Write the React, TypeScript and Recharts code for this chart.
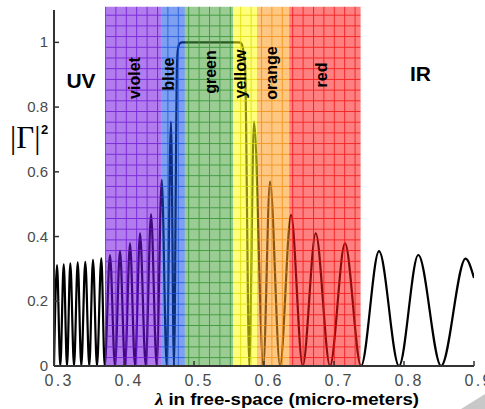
import React from 'react';
import { LineChart, Line, XAxis, YAxis, ReferenceArea } from 'recharts';

// |Gamma|^2 extrema, split by spectral region
const uvLambda = [0.3, 0.3043, 0.309, 0.3139, 0.3186, 0.3233, 0.3286, 0.3339, 0.339, 0.3447, 0.3504, 0.3557, 0.3614, 0.3676, 0.3724];
const uvGamma = [0.0, 0.312, 0.0, 0.314, 0.0, 0.317, 0.0, 0.32, 0.0, 0.322, 0.0, 0.328, 0.0, 0.333, 0.0];

const violetLambda = [0.38, 0.3871, 0.3943, 0.4014, 0.4086, 0.4157, 0.4229, 0.431, 0.4386, 0.4467];
const violetGamma = [0.343, 0.0, 0.356, 0.0, 0.379, 0.0, 0.41, 0.0, 0.469, 0.0];

const stopLambda = [0.4539, 0.461, 0.4671, 0.4714, 0.4757, 0.4771, 0.4795, 0.483, 0.564, 0.5675, 0.57, 0.5729, 0.579];
const stopGamma = [0.575, 0.0, 0.755, 0.0, 0.93, 0.98, 0.997, 1.0, 1.0, 0.997, 0.98, 0.93, 0.0];

const redIrLambda = [0.5857, 0.599, 0.6086, 0.6229, 0.6386, 0.6553, 0.6739, 0.6943, 0.7157, 0.7386, 0.7643, 0.7929, 0.8204, 0.853, 0.888, 0.9];
const redIrGamma = [0.755, 0.0, 0.57, 0.0, 0.467, 0.0, 0.41, 0.0, 0.379, 0.0, 0.355, 0.0, 0.343, 0.0, 0.332, 0.272];

const bandNames = ['violet', 'blue', 'green', 'yellow', 'orange', 'red'];
const bandStart = [0.373, 0.453, 0.487, 0.556, 0.59, 0.636];
const bandEnd = [0.453, 0.487, 0.556, 0.59, 0.636, 0.738];

const xTicks = [0.3, 0.4, 0.5, 0.6, 0.7, 0.8, 0.9];
const yTicks = [0, 0.2, 0.4, 0.6, 0.8, 1];

const lambdaAll = [...uvLambda, ...violetLambda, ...stopLambda, ...redIrLambda];
const gammaAll = [...uvGamma, ...violetGamma, ...stopGamma, ...redIrGamma];
const data = lambdaAll.map((lam, i) => ({ lam, r: gammaAll[i] }));

// fill (base colour, shown at 0.55 opacity) and grid-line colour per band
const BAND_STYLE: Record<string, { fill: string; grid: string }> = {
  violet: { fill: '#720ee0', grid: '#6a16d0' },
  blue: { fill: '#1452e4', grid: '#1c50e0' },
  green: { fill: '#46a23c', grid: '#2e902e' },
  yellow: { fill: '#ffff10', grid: '#d8d800' },
  orange: { fill: '#ff9b1c', grid: '#f08c10' },
  red: { fill: '#ff1818', grid: '#f01010' },
};

// label centres in px for the rotated band names
const LABEL_POS: Record<string, [number, number]> = {
  violet: [134.5, 78],
  blue: [168, 74],
  green: [210, 72],
  yellow: [240, 74],
  orange: [271.7, 73],
  red: [321.7, 75],
};

const FONT = 'Liberation Sans, Arial, Helvetica, sans-serif';

const XTick = (props: any) => {
  const { x, y, payload } = props;
  return (
    <text x={x + 4} y={y + 20} textAnchor="middle" fontSize={16} fill="#4a4a4a" fontFamily={FONT}
      textLength={27} lengthAdjust="spacing">
      {Number(payload.value).toFixed(1)}
    </text>
  );
};

const YTick = (props: any) => {
  const { x, y, payload } = props;
  const v = Number(payload.value);
  return (
    <text x={x - 6} y={y + 5} textAnchor="end" fontSize={15} fill="#4a4a4a" fontFamily={FONT}>
      {v === 0 || v === 1 ? String(v) : v.toFixed(1)}
    </text>
  );
};

const bandLabel = (name: string) => () => {
  const [cx, cy] = LABEL_POS[name];
  return (
    <text x={cx} y={cy} textAnchor="middle" dominantBaseline="central"
      transform={`rotate(-90 ${cx} ${cy})`} fontSize={16} fontWeight="bold" fontFamily={FONT} fill="#000">
      {name}
    </text>
  );
};

export default function App() {
  return (
    <div style={{ position: 'absolute', left: 0, top: 0, width: 485, height: 409, background: '#fff' }}>
      <LineChart width={485} height={409} data={data} margin={{ top: 10, right: 11, bottom: 0, left: 0 }}>
        <defs>
          {bandNames.map((b) => (
            <pattern key={b} id={`grid-${b}`} patternUnits="userSpaceOnUse" x={105} y={4} width={10.4} height={10.7}>
              <rect x={0} y={0} width={10.4} height={10.7} fill={BAND_STYLE[b].fill} fillOpacity={0.55} />
              <path d="M0.5 0 V10.7 M0 0.5 H10.4" stroke={BAND_STYLE[b].grid} strokeOpacity={0.8} strokeWidth={1} fill="none" />
            </pattern>
          ))}
        </defs>
        <XAxis dataKey="lam" type="number" domain={[0.3, 0.9]} ticks={xTicks} height={43}
          axisLine={{ stroke: '#333', strokeWidth: 2 }} tickLine={{ stroke: '#333', strokeWidth: 1.5 }}
          tickSize={-5} tickMargin={5} tick={<XTick />} allowDataOverflow />
        <XAxis xAxisId="top" orientation="top" dataKey="lam" type="number" domain={[0.3, 0.9]} ticks={xTicks}
          height={0} axisLine={{ stroke: '#444', strokeWidth: 2 }} tickLine={{ stroke: '#444', strokeWidth: 1.5 }}
          tickSize={-5} tick={false} />
        <YAxis type="number" domain={[0, 1.1]} ticks={yTicks} width={54}
          axisLine={{ stroke: '#333', strokeWidth: 2 }} tickLine={{ stroke: '#333', strokeWidth: 1.5 }}
          tickSize={-5} tickMargin={5} tick={<YTick />} allowDataOverflow />
        <YAxis yAxisId="right" orientation="right" type="number" domain={[0, 1.1]} ticks={yTicks} width={0}
          axisLine={{ stroke: '#444', strokeWidth: 2 }} tickLine={{ stroke: '#444', strokeWidth: 1.5 }}
          tickSize={-5} tick={false} />
        <Line dataKey="r" type="monotone" stroke="#000" strokeWidth={2.2} dot={false} activeDot={false}
          isAnimationActive={false} />
        {bandNames.map((b, i) => (
          <ReferenceArea key={b} x1={bandStart[i]} x2={bandEnd[i]} y1={0} y2={1.11} ifOverflow="visible"
            fill={`url(#grid-${b})`} fillOpacity={1} stroke="none" zIndex={450} label={bandLabel(b)} />
        ))}
        <text x={81} y={88} textAnchor="middle" fontSize={21} fontWeight="bold" fontFamily={FONT} fill="#000">UV</text>
        <text x={420.5} y={81} textAnchor="middle" fontSize={21} fontWeight="bold" fontFamily={FONT} fill="#000">IR</text>
        <text x={10} y={148} fontSize={31} fontFamily="Liberation Serif, Times New Roman, serif" fill="#000">|Γ|</text>
        <text x={41} y={134} fontSize={13} fontWeight="bold" fontFamily={FONT} fill="#000">2</text>
        <text x={287} y={405} textAnchor="middle" fontSize={17} fontWeight="bold" fontFamily={FONT} fill="#000"
          textLength={264} lengthAdjust="spacingAndGlyphs">
          <tspan fontStyle="italic" fontFamily="Liberation Serif, Times New Roman, serif">λ</tspan> in free-space (micro-meters)
        </text>
        <polygon points="461,409 485,409 485,394" fill="#c8c8c8" />
      </LineChart>
    </div>
  );
}
